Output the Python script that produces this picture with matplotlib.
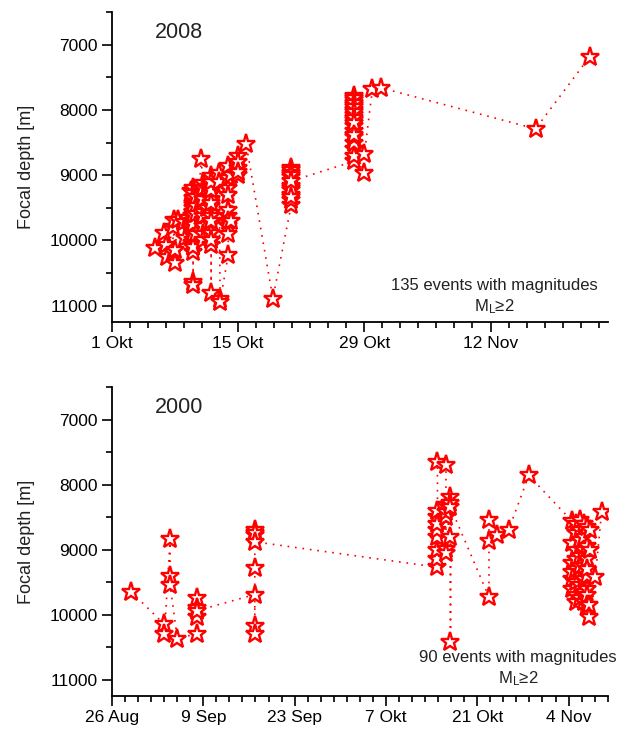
import matplotlib
matplotlib.use('Agg')
import matplotlib.pyplot as plt
import matplotlib.dates as mdates
from matplotlib.markers import MarkerStyle
from matplotlib.ticker import FuncFormatter, MultipleLocator
import pandas as pd

plt.rcParams['font.family'] = ['Liberation Sans', 'DejaVu Sans']
plt.rcParams['mathtext.default'] = 'regular'

months = ['Jan', 'Feb', 'Mär', 'Apr', 'Mai', 'Jun', 'Jul', 'Aug', 'Sep', 'Okt', 'Nov', 'Dez']

# 2008 swarm: days after 1 Oct 2008, focal depth in m (in event order)
start_2008, end_2008 = '2008-10-01', '2008-11-25'
days_2008 = [4.8, 5.8, 6.0, 6.1, 6.75, 6.8, 6.9, 6.95, 7.0, 7.3, 8.0, 8.05, 8.4, 8.8, 8.85, 8.9, 8.95,
             9.0, 9.0, 9.0, 9.0, 9.0, 9.0, 9.0, 9.0, 9.0, 9.0, 9.0, 9.0, 9.0, 9.0, 9.0, 9.0, 9.0, 9.0, 9.0, 9.0, 9.0,
             9.3, 9.3, 9.3, 9.3,
             9.9,
             10.1, 10.1, 10.1, 10.1, 10.1, 10.1, 10.1, 10.1, 10.1, 10.1, 10.1,
             10.5, 10.5,
             11.0, 11.0, 11.0, 11.0, 11.0, 11.0, 11.0, 11.0, 11.0, 11.0, 11.0, 11.0, 11.0, 11.0, 11.0, 11.0, 11.0,
             11.9, 11.9,
             12.0, 12.0,
             12.9, 12.9, 12.9, 12.9, 12.9, 12.9, 12.9, 12.9, 12.9, 12.9,
             13.2, 13.2,
             14.0, 14.0, 14.0, 14.0, 14.0,
             14.9,
             17.85,
             19.9, 19.9, 19.9, 19.9, 19.9, 19.9, 19.9, 19.9, 19.9, 19.9, 19.9, 19.9, 19.9,
             26.9, 26.9, 26.9, 26.9, 26.9, 26.9, 26.9, 26.9, 26.9, 26.9,
             26.9, 26.9, 26.9, 26.9, 26.9, 26.9, 26.9, 26.9, 26.9, 26.9,
             28.0, 28.0,
             28.9, 29.8, 47.0, 53.0]
depth_2008 = [10120, 9890, 10070, 10250, 9790, 10170, 9680, 10350, 10150, 9680, 9720, 9960, 9650, 9250, 9860, 10040, 9560,
              9200, 9280, 9350, 9430, 9500, 9570, 9640, 9700, 9780, 9850, 9920, 10000, 10080, 10170, 10630, 10690, 10100, 9900, 9750, 9610, 9460,
              9330, 9480, 9600, 9900,
              8760,
              9120, 9300, 9440, 9560, 9680, 9780, 9900, 10000, 9200, 9370, 9620,
              9200, 9500,
              9020, 9170, 9280, 9370, 9480, 9580, 9630, 9750, 9880, 9990, 10070, 10810, 10000, 9700, 9420, 9230, 9100,
              8960, 9100,
              10890, 10940,
              10220, 9780, 9630, 9530, 9200, 9040, 8860, 9300, 9700, 9900,
              9000, 9700,
              8700, 8890, 9000, 8800, 8950,
              8530,
              10890,
              9450, 9380, 9300, 9230, 9160, 8890, 8920, 8970, 9030, 9000, 9200, 9330, 9090,
              8785, 8600, 8500, 8420, 8330, 8250, 8150, 8080, 8000, 7920,
              7850, 7790, 7820, 7890, 7960, 8040, 8120, 8200, 8380, 8700,
              8960, 8680,
              7680, 7660, 8290, 7185]

# 2000 swarm: days after 26 Aug 2000, focal depth in m (in event order)
start_2000, end_2000 = '2000-08-26', '2000-11-10'
days_2000 = [2.96,
             8.05, 8.05,
             8.92, 8.92, 8.92,
             10.03,
             13.0, 13.0, 13.0, 13.0, 13.0,
             21.9, 21.9, 21.9, 21.9, 21.9, 21.9, 21.9, 21.9,
             49.9, 49.9, 49.9, 49.9, 49.9, 49.9, 49.9, 49.9, 49.9,
             51.2, 51.2, 51.2, 51.2, 51.2, 51.2,
             51.9, 51.9, 51.9, 51.9, 51.9,
             57.8, 57.8, 57.8,
             59.0, 60.8, 63.9,
             70.5, 70.5, 70.5, 70.5, 70.5, 70.5,
             71.2, 71.2, 71.2, 71.2, 71.2, 71.2, 71.2, 71.2,
             71.8, 71.8, 71.8, 71.8, 71.8, 71.8, 71.8, 71.8,
             72.3, 72.3, 72.3, 72.3, 72.3, 72.3, 72.3, 72.3,
             72.8, 72.8, 72.8, 72.8, 72.8, 72.8, 72.8, 72.8,
             73.1, 73.1,
             73.3, 73.3,
             74.1, 75.07]
depth_2000 = [9650,
              10150, 10290,
              8830, 9400, 9550,
              10370,
              10290, 9750, 10040, 9890, 9940,
              9690, 10180, 10300, 9290, 8700, 8780, 8740, 8880,
              9270, 9140, 9000, 8810, 8700, 8500, 8600, 8400, 7650,
              7700, 8320, 8500, 8420, 8990, 9050,
              8190, 8290, 8810, 10420, 8345,
              9730, 8860, 8550,
              8780, 8700, 7860,
              8560, 8900, 9200, 9450, 9600, 9350,
              8600, 8750, 9000, 9300, 9500, 9700, 9800, 9150,
              8550, 8700, 8850, 9100, 9350, 9550, 9750, 9250,
              8600, 8800, 9050, 9250, 9450, 9650, 9800, 9000,
              8650, 8950, 9150, 9400, 9600, 9700, 9850, 9300,
              9850, 10040,
              8700, 9000,
              9420, 8420]


def date_label(x, pos):
    d = mdates.num2date(x)
    return f'{d.day} {months[d.month - 1]}'


def draw(ax, start, end, days, depth, year, note_x, note_y):
    t = pd.Timestamp(start) + pd.to_timedelta(days, unit='D')
    ax.plot(t.values, depth, color='red', lw=1.2, ls=(0, (1, 3.5)),
            marker=MarkerStyle('*', joinstyle='miter'), ms=14, mfc='white', mec='red', mew=1.7)
    ax.set_xlim(pd.Timestamp(start), pd.Timestamp(end))
    ax.set_xticks(mdates.date2num(pd.date_range(start, end, freq='14D').to_pydatetime()))
    ax.set_xticks(mdates.date2num(pd.date_range(start, end, freq='2D').to_pydatetime()), minor=True)
    ax.xaxis.set_major_formatter(FuncFormatter(date_label))
    ax.set_ylim(11250, 6500)
    ax.set_yticks([7000, 8000, 9000, 10000, 11000])
    ax.yaxis.set_minor_locator(MultipleLocator(500))
    for s in ['top', 'right']:
        ax.spines[s].set_visible(False)
    for s in ['left', 'bottom']:
        ax.spines[s].set_linewidth(1.3)
    ax.tick_params(which='major', direction='out', length=7, width=1.2, labelsize=12.5, pad=3)
    ax.tick_params(which='minor', direction='out', length=4, width=1.2)
    ax.text(0.087, 0.935, year, transform=ax.transAxes, fontsize=15.5, va='center', ha='left', color='#222222')
    ax.text(note_x, note_y, f'{len(days)} events with magnitudes', transform=ax.transAxes,
            fontsize=12, ha='center', va='center', color='#222222')
    ax.text(note_x, note_y - 0.071, 'M$_{L}$≥2', transform=ax.transAxes,
            fontsize=12, ha='center', va='center', color='#222222')


fig = plt.figure(figsize=(6.22, 7.31), dpi=100)
ax1 = fig.add_axes([0.180, 0.5595, 0.797, 0.4241])
ax2 = fig.add_axes([0.180, 0.0479, 0.797, 0.4227])

draw(ax1, start_2008, end_2008, days_2008, depth_2008, '2008', 0.772, 0.119)
draw(ax2, start_2000, end_2000, days_2000, depth_2000, '2000', 0.819, 0.126)

fig.text(0.0434, 0.7715, 'Focal depth [m]', rotation=90, ha='center', va='center', fontsize=13, color='#222222')
fig.text(0.0434, 0.2592, 'Focal depth [m]', rotation=90, ha='center', va='center', fontsize=13, color='#222222')

fig.savefig('out.png', dpi=100)
